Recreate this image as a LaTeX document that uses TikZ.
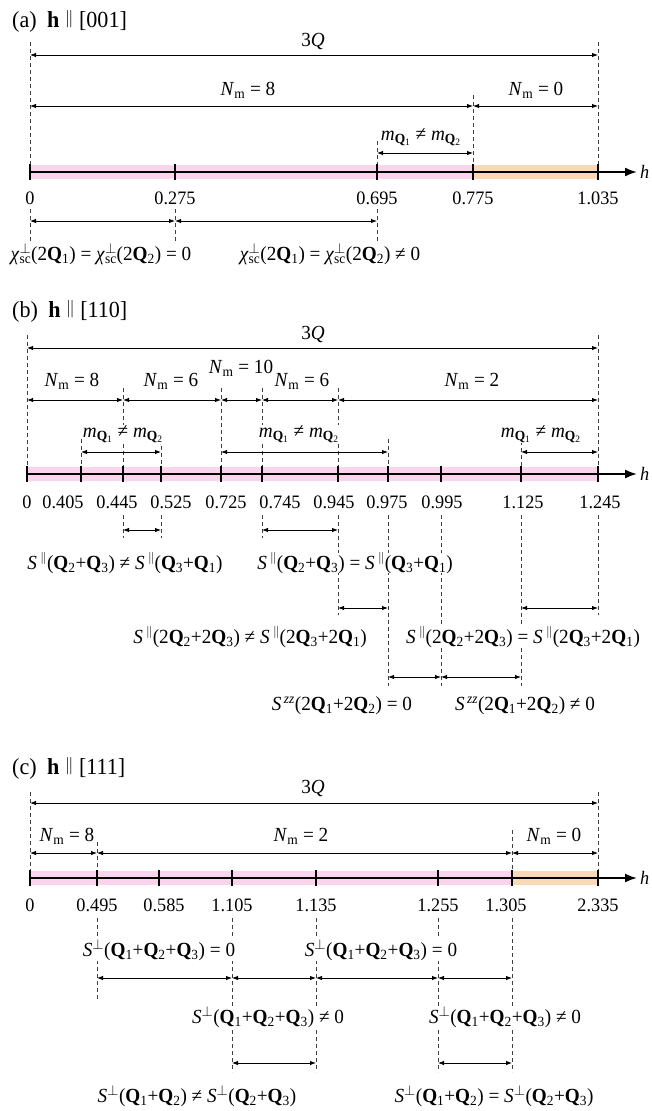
\documentclass[tikz,border=0pt]{standalone}
\usepackage{fontspec}
\setmainfont{Liberation Serif}[FakeStretch=0.96]
\usetikzlibrary{arrows.meta}
\definecolor{bandpink}{RGB}{250,212,236}
\definecolor{bandorange}{RGB}{250,218,182}
\newcommand{\bQ}[1]{\textbf{Q}\textsubscript{#1}}
\newcommand{\Nm}{\textit{N}\textsubscript{m}}
\newcommand{\mQ}[1]{\textit{m}\textsubscript{\textbf{Q}\textsubscript{#1}}}
\newcommand{\Spar}{\textit{S}\,\textsuperscript{\scalebox{0.85}{$\parallel$}}}
\newcommand{\Sperp}{\textit{S}\textsuperscript{$\perp$}}
\newcommand{\Szz}{\textit{S}\textsuperscript{\,\textit{zz}}}
\newcommand{\chisc}{\textit{χ}\rlap{\textsuperscript{$\perp$}}\textsubscript{sc}}
\newcommand{\ttlpar}{\raisebox{0.17em}{\scalebox{0.7}{$\parallel$}}}
\begin{document}
\begin{tikzpicture}[x=1pt,y=-1pt,
  dimarrow/.style={line width=0.9pt,{Latex[length=6pt,width=4.5pt]}-{Latex[length=6pt,width=4.5pt]}},
  guide/.style={line width=0.6pt,dash pattern=on 4pt off 3pt,black!75},
  axisline/.style={line width=1.9pt,-{Latex[length=12pt,width=9pt]}},
  tickmark/.style={line width=2pt},
  lbl/.style={font=\fontsize{20}{23}\selectfont,inner sep=0pt,fill=white},
  ticklbl/.style={font=\fontsize{19}{22}\selectfont,inner sep=0pt},
  ttl/.style={font=\fontsize{23}{26}\selectfont,inner sep=0pt,anchor=west}]
\path[use as bounding box] (0,0) rectangle (652,1111);

% ================= (a)
\node[ttl] (ta) at (12,21) {(a)\hspace{0.45em}\textbf{h} \ttlpar\ [001]};
\coordinate (a0) at (30,172);
\coordinate (a1) at (175,172);
\coordinate (a2) at (377,172);
\coordinate (a3) at (473,172);
\coordinate (a4) at (598,172);
\coordinate (aE) at (637,172);
\coordinate (ay1) at (0,55);
\coordinate (ay2) at (0,106);
\coordinate (ay3) at (0,153);
\coordinate (ay4) at (0,221);
\fill[bandpink] (30,165) rectangle (473,179);
\fill[bandorange] (473,165) rectangle (598,179);
\draw[guide] (30,42) -- (30,165);
\draw[guide] (30,209) -- (30,242);
\draw[guide] (598,42) -- (598,165);
\draw[guide] (473,95) -- (473,165);
\draw[guide] (377,141) -- (377,165);
\draw[guide] (377,209) -- (377,242);
\draw[guide] (175,209) -- (175,242);
\draw[axisline] (a0) -- (aE);
\foreach \p in {a0,a1,a2,a3,a4} \draw[tickmark] ([yshift=8pt]\p) -- ([yshift=-8pt]\p);
\node[ticklbl,anchor=west] (ha) at (640,172) {\textit{h}};
\node[ticklbl] (la0) at (30,198) {0};
\node[ticklbl] (la1) at (175,198) {0.275};
\node[ticklbl] (la2) at (377,198) {0.695};
\node[ticklbl] (la3) at (473,198) {0.775};
\node[ticklbl] (la4) at (598,198) {1.035};
\draw[dimarrow] (a0|-ay1) -- (a4|-ay1);
\node[lbl] (qa) at (313,41) {3\textit{Q}};
\draw[dimarrow] (a0|-ay2) -- (a3|-ay2);
\draw[dimarrow] (a3|-ay2) -- (a4|-ay2);
\node[lbl] (na1) at (248,90) {\Nm{} = 8};
\node[lbl] (na2) at (536,90) {\Nm{} = 0};
\draw[dimarrow] (a2|-ay3) -- (a3|-ay3);
\node[lbl] (ma1) at (421,137) {\mQ{1} ≠ \mQ{2}};
\draw[dimarrow] (a0|-ay4) -- (a1|-ay4);
\draw[dimarrow] (a1|-ay4) -- (a2|-ay4);
\node[lbl] (ca1) at (101,254) {\chisc(2\bQ{1}) = \chisc(2\bQ{2}) = 0};
\node[lbl] (ca2) at (330,254) {\chisc(2\bQ{1}) = \chisc(2\bQ{2}) ≠ 0};

% ================= (b)
\node[ttl] (tb) at (12,311) {(b)\hspace{0.45em}\textbf{h} \ttlpar\ [110]};
\coordinate (b0) at (27,474);
\coordinate (b1) at (81,474);
\coordinate (b2) at (123,474);
\coordinate (b3) at (161,474);
\coordinate (b4) at (221,474);
\coordinate (b5) at (262,474);
\coordinate (b6) at (338,474);
\coordinate (b7) at (388,474);
\coordinate (b8) at (441,474);
\coordinate (b9) at (521,474);
\coordinate (b10) at (598,474);
\coordinate (bE) at (637,474);
\coordinate (by1) at (0,348);
\coordinate (by2) at (0,400);
\coordinate (by3) at (0,452);
\coordinate (by4) at (0,530);
\coordinate (by5) at (0,608);
\coordinate (by6) at (0,677);
\fill[bandpink] (27,467) rectangle (598,481);
\draw[guide] (27,335) -- (27,467);
\draw[guide] (598,335) -- (598,467);
\draw[guide] (598,515) -- (598,615);
\draw[guide] (123,388) -- (123,467);
\draw[guide] (123,515) -- (123,538);
\draw[guide] (221,388) -- (221,467);
\draw[guide] (262,388) -- (262,467);
\draw[guide] (262,515) -- (262,538);
\draw[guide] (338,388) -- (338,467);
\draw[guide] (338,515) -- (338,615);
\draw[guide] (81,439) -- (81,467);
\draw[guide] (161,439) -- (161,467);
\draw[guide] (161,515) -- (161,538);
\draw[guide] (388,439) -- (388,467);
\draw[guide] (388,515) -- (388,686);
\draw[guide] (441,515) -- (441,686);
\draw[guide] (521,434) -- (521,467);
\draw[guide] (521,515) -- (521,686);
\draw[axisline] (b0) -- (bE);
\foreach \p in {b0,b1,b2,b3,b4,b5,b6,b7,b8,b9,b10} \draw[tickmark] ([yshift=8pt]\p) -- ([yshift=-8pt]\p);
\node[ticklbl,anchor=west] (hb) at (640,474) {\textit{h}};
\node[ticklbl] (lb0) at (27,502) {0};
\node[ticklbl] (lb1) at (63,502) {0.405};
\node[ticklbl] (lb2) at (117,502) {0.445};
\node[ticklbl] (lb3) at (171,502) {0.525};
\node[ticklbl] (lb4) at (226,502) {0.725};
\node[ticklbl] (lb5) at (280,502) {0.745};
\node[ticklbl] (lb6) at (334,502) {0.945};
\node[ticklbl] (lb7) at (387,502) {0.975};
\node[ticklbl] (lb8) at (442,502) {0.995};
\node[ticklbl] (lb9) at (523,502) {1.125};
\node[ticklbl] (lb10) at (600,502) {1.245};
\draw[dimarrow] (b0|-by1) -- (b10|-by1);
\node[lbl] (qb) at (313,334) {3\textit{Q}};
\draw[dimarrow] (b0|-by2) -- (b2|-by2);
\draw[dimarrow] (b2|-by2) -- (b4|-by2);
\draw[dimarrow] (b4|-by2) -- (b5|-by2);
\draw[dimarrow] (b5|-by2) -- (b6|-by2);
\draw[dimarrow] (b6|-by2) -- (b10|-by2);
\node[lbl] (nb1) at (72,381) {\Nm{} = 8};
\node[lbl] (nb2) at (171,381) {\Nm{} = 6};
\node[lbl] (nb3) at (241,368) {\Nm{} = 10};
\node[lbl] (nb4) at (302,381) {\Nm{} = 6};
\node[lbl] (nb5) at (472,381) {\Nm{} = 2};
\draw[dimarrow] (b1|-by3) -- (b3|-by3);
\draw[dimarrow] (b4|-by3) -- (b7|-by3);
\draw[dimarrow] (b9|-by3) -- (b10|-by3);
\node[lbl] (mb1) at (123,434) {\mQ{1} ≠ \mQ{2}};
\node[lbl] (mb2) at (299,434) {\mQ{1} ≠ \mQ{2}};
\node[lbl] (mb3) at (541,434) {\mQ{1} ≠ \mQ{2}};
\draw[dimarrow] (b2|-by4) -- (b3|-by4);
\draw[dimarrow] (b5|-by4) -- (b6|-by4);
\node[lbl] (sb1) at (125,563) {\Spar(\bQ{2}+\bQ{3}) ≠ \Spar(\bQ{3}+\bQ{1})};
\node[lbl] (sb2) at (355,563) {\Spar(\bQ{2}+\bQ{3}) = \Spar(\bQ{3}+\bQ{1})};
\draw[dimarrow] (b6|-by5) -- (b7|-by5);
\draw[dimarrow] (b9|-by5) -- (b10|-by5);
\node[lbl] (sb3) at (250,637) {\Spar(2\bQ{2}+2\bQ{3}) ≠ \Spar(2\bQ{3}+2\bQ{1})};
\node[lbl] (sb4) at (523,637) {\Spar(2\bQ{2}+2\bQ{3}) = \Spar(2\bQ{3}+2\bQ{1})};
\draw[dimarrow] (b7|-by6) -- (b8|-by6);
\draw[dimarrow] (b8|-by6) -- (b9|-by6);
\node[lbl] (zb1) at (342,706) {\Szz(2\bQ{1}+2\bQ{2}) = 0};
\node[lbl] (zb2) at (525,706) {\Szz(2\bQ{1}+2\bQ{2}) ≠ 0};

% ================= (c)
\node[ttl] (tc) at (12,768) {(c)\hspace{0.45em}\textbf{h} \ttlpar\ [111]};
\coordinate (c0) at (30,878);
\coordinate (c1) at (97,878);
\coordinate (c2) at (159,878);
\coordinate (c3) at (232,878);
\coordinate (c4) at (316,878);
\coordinate (c5) at (438,878);
\coordinate (c6) at (512,878);
\coordinate (c7) at (598,878);
\coordinate (cE) at (637,878);
\coordinate (cy1) at (0,803);
\coordinate (cy2) at (0,853);
\coordinate (cy3) at (0,978);
\coordinate (cy4) at (0,1063);
\fill[bandpink] (30,871) rectangle (512,885);
\fill[bandorange] (512,871) rectangle (598,885);
\draw[guide] (30,792) -- (30,871);
\draw[guide] (598,792) -- (598,871);
\draw[guide] (97,842) -- (97,871);
\draw[guide] (97,918) -- (97,1000);
\draw[guide] (512,830) -- (512,871);
\draw[guide] (512,918) -- (512,1072);
\draw[guide] (232,918) -- (232,1072);
\draw[guide] (316,918) -- (316,1072);
\draw[guide] (438,918) -- (438,1072);
\draw[axisline] (c0) -- (cE);
\foreach \p in {c0,c1,c2,c3,c4,c5,c6,c7} \draw[tickmark] ([yshift=8pt]\p) -- ([yshift=-8pt]\p);
\node[ticklbl,anchor=west] (hc) at (640,878) {\textit{h}};
\node[ticklbl] (lc0) at (30,905) {0};
\node[ticklbl] (lc1) at (97,905) {0.495};
\node[ticklbl] (lc2) at (164,905) {0.585};
\node[ticklbl] (lc3) at (232,905) {1.105};
\node[ticklbl] (lc4) at (316,905) {1.135};
\node[ticklbl] (lc5) at (438,905) {1.255};
\node[ticklbl] (lc6) at (506,905) {1.305};
\node[ticklbl] (lc7) at (598,905) {2.335};
\draw[dimarrow] (c0|-cy1) -- (c7|-cy1);
\node[lbl] (qc) at (313,788) {3\textit{Q}};
\draw[dimarrow] (c0|-cy2) -- (c1|-cy2);
\draw[dimarrow] (c1|-cy2) -- (c6|-cy2);
\draw[dimarrow] (c6|-cy2) -- (c7|-cy2);
\node[lbl] (nc1) at (67,836) {\Nm{} = 8};
\node[lbl] (nc2) at (301,836) {\Nm{} = 2};
\node[lbl] (nc3) at (554,836) {\Nm{} = 0};
\node[lbl] (sc1) at (159,950) {\Sperp(\bQ{1}+\bQ{2}+\bQ{3}) = 0};
\node[lbl] (sc2) at (381,950) {\Sperp(\bQ{1}+\bQ{2}+\bQ{3}) = 0};
\draw[dimarrow] (c1|-cy3) -- (c3|-cy3);
\draw[dimarrow] (c3|-cy3) -- (c4|-cy3);
\draw[dimarrow] (c4|-cy3) -- (c5|-cy3);
\draw[dimarrow] (c5|-cy3) -- (c6|-cy3);
\node[lbl] (sc3) at (268,1017) {\Sperp(\bQ{1}+\bQ{2}+\bQ{3}) ≠ 0};
\node[lbl] (sc4) at (505,1017) {\Sperp(\bQ{1}+\bQ{2}+\bQ{3}) ≠ 0};
\draw[dimarrow] (c3|-cy4) -- (c4|-cy4);
\draw[dimarrow] (c5|-cy4) -- (c6|-cy4);
\node[lbl] (sc5) at (197,1096) {\Sperp(\bQ{1}+\bQ{2}) ≠ \Sperp(\bQ{2}+\bQ{3})};
\node[lbl] (sc6) at (494,1096) {\Sperp(\bQ{1}+\bQ{2}) = \Sperp(\bQ{2}+\bQ{3})};
\end{tikzpicture}
\end{document}
